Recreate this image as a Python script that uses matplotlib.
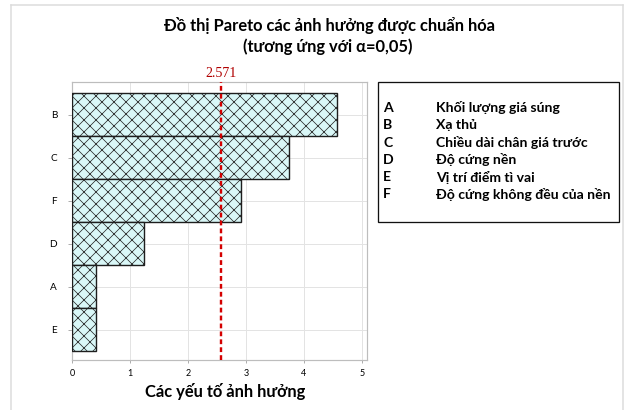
import matplotlib
matplotlib.use("Agg")
import matplotlib.pyplot as plt
from matplotlib.lines import Line2D
import numpy as np

# Standardized effects, listed top to bottom
factors = ["B", "C", "F", "D", "A", "E"]
effects = [4.57, 3.74, 2.91, 1.25, 0.41, 0.41]
critical_value = 2.571

legend_codes = ["A", "B", "C", "D", "E", "F"]
legend_names = ["Khối lượng giá súng", "Xạ thủ", "Chiều dài chân giá trước",
                "Độ cứng nền", "Vị trí điểm tì vai", "Độ cứng không đều của nền"]

x_ticks = [0, 1, 2, 3, 4, 5]

FONT = ["Lato", "DejaVu Sans"]
plt.rcParams["font.family"] = FONT
plt.rcParams["hatch.linewidth"] = 0.7
plt.rcParams["hatch.color"] = "#222222"

W, H, DPI = 624, 410, 72
fig = plt.figure(figsize=(W / DPI, H / DPI), dpi=DPI)
fig.patch.set_facecolor("white")

# light outer frame
frame_kw = dict(color="#dcdcdc", linewidth=1.5, transform=fig.transFigure)
fig.add_artist(Line2D([11 / W, 623 / W], [1 - 5 / H, 1 - 5 / H], **frame_kw))
fig.add_artist(Line2D([11 / W, 11 / W], [1 - 5 / H, 0], **frame_kw))
fig.add_artist(Line2D([623 / W, 623 / W], [1 - 5 / H, 0], **frame_kw))

ax = fig.add_axes([72 / W, 1 - 360 / H, (367 - 72) / W, (360 - 82) / H])

n = len(factors)
pos = np.arange(n)[::-1]
ax.barh(pos, effects, height=1.0, left=0, color="#d9f7f7", edgecolor="#1e1e1e",
        linewidth=1.4, hatch="xx", zorder=3)

ax.axvline(critical_value, color="#d40000", linestyle=(0, (2, 1.3)), linewidth=2.4, zorder=4)
ax.text(critical_value, 5.80, f"{critical_value:.3f}", color="#b00000", ha="center",
        va="bottom", fontsize=14, family=["Liberation Serif"])

ax.set_xlim(0, 5.09)
ax.set_ylim(-0.7, 5.76)
ax.set_xticks(x_ticks)
ax.set_xticklabels([str(t) for t in x_ticks], fontsize=9)
ax.set_yticks(pos)
ax.set_yticklabels(factors, fontsize=10)
ax.tick_params(axis="y", length=4, color="#9a9a9a", pad=11)
ax.tick_params(axis="x", length=3, color="#9a9a9a", pad=6)
ax.grid(True, color="#e3e3e3", linewidth=1, zorder=0)
ax.set_axisbelow(True)
for s in ax.spines.values():
    s.set_color("#bdbdbd")
    s.set_linewidth(1.2)

fig.text(225 / W, 1 - 392 / H, "Các yếu tố ảnh hưởng", ha="center", va="center",
         fontsize=16.5, fontweight="bold")

fig.text(330 / W, 1 - 25 / H, "Đồ thị Pareto các ảnh hưởng được chuẩn hóa",
         ha="center", va="center", fontsize=16.5, fontweight="bold")
fig.text(328 / W, 1 - 47 / H, "(tương ứng với α=0,05)",
         ha="center", va="center", fontsize=16.5, fontweight="bold")

# factor key box
bx0, by0, bx1, by1 = 378, 82, 619, 222
fig.add_artist(plt.Rectangle((bx0 / W, 1 - by1 / H), (bx1 - bx0) / W, (by1 - by0) / H,
                             transform=fig.transFigure, fill=False,
                             edgecolor="#111111", linewidth=1.3))
for i, (c, name) in enumerate(zip(legend_codes, legend_names)):
    y = 1 - (108 + i * 17.3) / H
    fig.text(383 / W, y, c, ha="left", va="center", fontsize=14, fontweight="bold")
    fig.text(436 / W, y, name, ha="left", va="center", fontsize=14, fontweight="bold")

fig.savefig("out.png", dpi=DPI)
